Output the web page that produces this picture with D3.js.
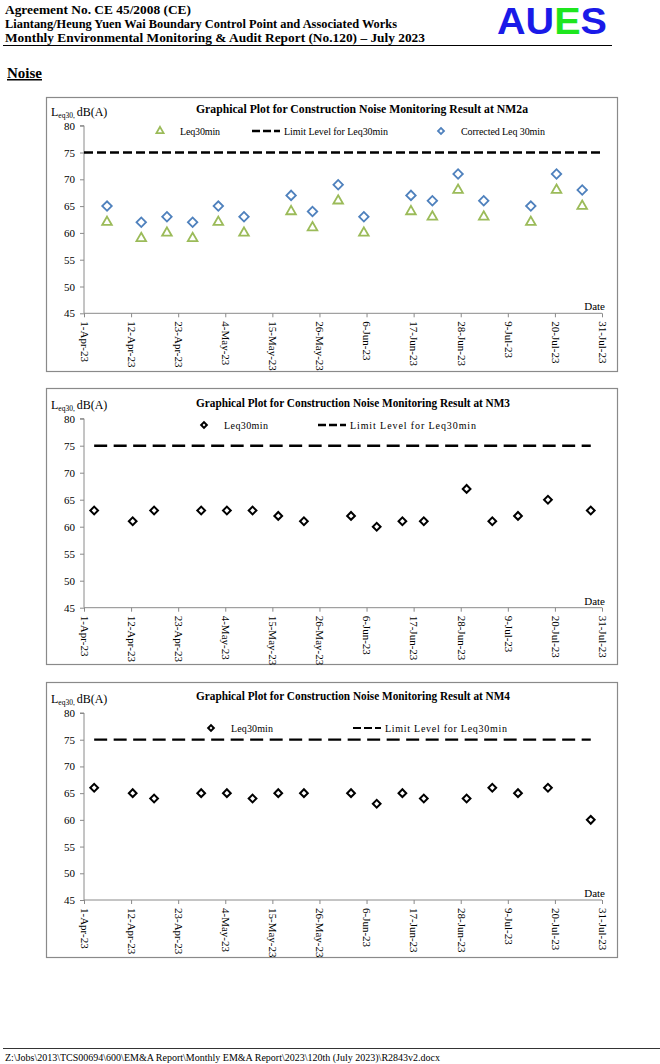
<!DOCTYPE html>
<html>
<head>
<meta charset="utf-8">
<script src="https://cdn.jsdelivr.net/npm/d3@7"></script>
<style>
  html, body { margin: 0; padding: 0; background: #fff; }
  svg { display: block; }
  text { font-family: "Liberation Serif", "Times New Roman", serif; }
</style>
</head>
<body>
<svg id="page" width="660" height="1064"></svg>
<script>
// ---------------- DATA ----------------
const nm2aDates = ["2023-04-06","2023-04-14","2023-04-20","2023-04-26","2023-05-02","2023-05-08","2023-05-19","2023-05-24","2023-05-30","2023-06-05","2023-06-16","2023-06-21","2023-06-27","2023-07-03","2023-07-14","2023-07-20","2023-07-26"];
const nm2aLeq30 = [62,59,60,59,62,60,64,61,66,60,64,63,68,63,62,68,65];
const nm2aCorrected = [65,62,63,62,65,63,67,64,69,63,67,66,71,66,65,71,68];

const nm34Dates = ["2023-04-03","2023-04-12","2023-04-17","2023-04-28","2023-05-04","2023-05-10","2023-05-16","2023-05-22","2023-06-02","2023-06-08","2023-06-14","2023-06-19","2023-06-29","2023-07-05","2023-07-11","2023-07-18","2023-07-28"];
const nm3Leq30 = [63,61,63,63,63,63,62,61,62,60,61,61,67,61,62,65,63];
const nm4Leq30 = [66,65,64,65,65,64,65,65,65,63,65,64,64,66,65,66,60];

const limitLevel = 75;
const yTicks = [45,50,55,60,65,70,75,80];
const xTickDates = ["2023-04-01","2023-04-12","2023-04-23","2023-05-04","2023-05-15","2023-05-26","2023-06-06","2023-06-17","2023-06-28","2023-07-09","2023-07-20","2023-07-31"];

// ---------------- HELPERS ----------------
const parse = d3.utcParse("%Y-%m-%dT%H:%M");
const pd = s => parse(s + "T09:00");
const pd0 = s => parse(s + "T00:00");
const fmt = d3.utcFormat("%-d-%b-%y");

const svg = d3.select("#page");

// ---------------- HEADER ----------------
const hdr = svg.append("g");
function hline(t, y, len) {
  hdr.append("text").attr("x", 5).attr("y", y).attr("font-size", 13).attr("font-weight", "bold")
    .attr("textLength", len).attr("lengthAdjust", "spacingAndGlyphs").text(t);
}
hline("Agreement No. CE 45/2008 (CE)", 14, 186);
hline("Liantang/Heung Yuen Wai Boundary Control Point and Associated Works", 28, 392);
hline("Monthly Environmental Monitoring & Audit Report (No.120) \u2013 July 2023", 42, 420);
hdr.append("line").attr("x1", 3).attr("x2", 612).attr("y1", 45.5).attr("y2", 45.5)
  .attr("stroke", "#000").attr("stroke-width", 1.2);
const logo = hdr.append("text").attr("x", 497).attr("y", 34).attr("font-size", 37)
  .attr("font-weight", "bold").attr("textLength", 110).attr("lengthAdjust", "spacingAndGlyphs")
  .style("font-family", "'Liberation Sans', Arial, sans-serif");
logo.append("tspan").attr("fill", "#1a1ae8").text("AU");
logo.append("tspan").attr("fill", "#1ee61e").text("E");
logo.append("tspan").attr("fill", "#1a1ae8").text("S");

hdr.append("text").attr("x", 7).attr("y", 78).attr("font-size", 15).attr("font-weight", "bold")
  .attr("text-decoration", "underline").text("Noise");

// ---------------- FOOTER ----------------
svg.append("line").attr("x1", 3).attr("x2", 660).attr("y1", 1048.5).attr("y2", 1048.5)
  .attr("stroke", "#000").attr("stroke-width", 0.8);
svg.append("text").attr("x", 5).attr("y", 1061).attr("font-size", 10)
  .text("Z:\\Jobs\\2013\\TCS00694\\600\\EM&A Report\\Monthly EM&A Report\\2023\\120th (July 2023)\\R2843v2.docx");

// ---------------- CHART ----------------
function diamondPath(size) { return d3.symbol().type(d3.symbolSquare).size(size)(); }

function drawChart(cfg) {
  const g = svg.append("g");
  g.append("rect").attr("x", cfg.box[0] + 0.5).attr("y", cfg.box[1] + 0.5)
    .attr("width", cfg.box[2] - cfg.box[0]).attr("height", cfg.box[3] - cfg.box[1])
    .attr("fill", "#fff").attr("stroke", "#8a8a8a").attr("stroke-width", 1.2);

  const x = d3.scaleUtc().domain([pd0(xTickDates[0]), pd0(xTickDates[xTickDates.length - 1])]).range([84, 602]);
  const y = d3.scaleLinear().domain([45, 80]).range([cfg.y0, cfg.y80]);

  const yAxis = d3.axisLeft(y).tickValues(yTicks).tickSize(4).tickPadding(5).tickFormat(d3.format("d"));
  const ya = g.append("g").attr("transform", "translate(84,0)").call(yAxis);
  ya.attr("font-family", null);
  ya.select(".domain").attr("stroke", "#8a8a8a").attr("d", `M-4,${cfg.y80}H0V${cfg.y0}`);
  ya.selectAll(".tick line").attr("stroke", "#8a8a8a");
  ya.selectAll(".tick text").attr("font-size", 11).attr("fill", "#000")
    .style("font-family", "'Liberation Serif', serif");

  const xAxis = d3.axisBottom(x).tickValues(xTickDates.map(pd0)).tickSize(4).tickFormat(fmt);
  const xa = g.append("g").attr("transform", `translate(0,${cfg.y0})`).call(xAxis);
  xa.attr("font-family", null);
  xa.select(".domain").attr("stroke", "#8a8a8a").attr("d", "M84,0H602");
  xa.selectAll(".tick line").attr("stroke", "#8a8a8a");
  xa.selectAll(".tick text").attr("font-size", 11).attr("fill", "#000")
    .style("font-family", "'Liberation Serif', serif")
    .attr("text-anchor", "start").attr("transform", "rotate(90)")
    .attr("x", 8).attr("y", 0).attr("dy", "0.33em");

  g.append("text").attr("x", 605).attr("y", cfg.y0 - 3).attr("font-size", 11)
    .attr("text-anchor", "end").text("Date");

  const yt = g.append("text").attr("x", 51).attr("y", cfg.y80 - 10).attr("font-size", 12);
  yt.append("tspan").text("L");
  yt.append("tspan").attr("font-size", 7.5).attr("dy", 2).text("eq30");
  yt.append("tspan").attr("font-size", 7.5).attr("dy", 0).text(", ");
  yt.append("tspan").attr("dy", -2).text("dB(A)");

  g.append("text").attr("x", 196).attr("y", cfg.titleY).attr("font-size", 13).attr("font-weight", "bold")
    .attr("textLength", cfg.titleLen).attr("lengthAdjust", "spacingAndGlyphs")
    .text(cfg.title);

  const line = d3.line().x(d => x(d[0])).y(d => y(d[1]));
  g.append("path").datum(cfg.limitDates.map(d => [d, limitLevel]))
    .attr("d", line).attr("fill", "none").attr("stroke", "#000")
    .attr("stroke-width", cfg.limitWidth).attr("stroke-dasharray", cfg.dash);

  cfg.series.forEach(s => {
    const pts = s.dates.map((d, i) => ({ d: pd(d), v: s.values[i] }));
    g.append("g").selectAll("path").data(pts).join("path")
      .attr("transform", p => `translate(${x(p.d)},${y(p.v)})` + (s.type === "diamond" ? " rotate(45)" : ""))
      .attr("d", s.type === "diamond" ? diamondPath(s.size) : d3.symbol().type(d3.symbolTriangle).size(s.size)())
      .attr("fill", "none").attr("stroke", s.color).attr("stroke-width", s.sw);
  });

  cfg.legend.forEach(l => {
    if (l.type === "line") {
      g.append("line").attr("x1", l.x).attr("x2", l.x + 28).attr("y1", cfg.legendY).attr("y2", cfg.legendY)
        .attr("stroke", "#000").attr("stroke-width", cfg.limitWidth).attr("stroke-dasharray", cfg.legendDash);
      g.append("text").attr("x", l.x + 32).attr("y", cfg.legendY + 3.5).attr("font-size", 10)
        .attr("textLength", l.len).attr("lengthAdjust", "spacing").text(l.label);
    } else {
      g.append("path").attr("transform", `translate(${l.x},${cfg.legendY})` + (l.type === "diamond" ? " rotate(45)" : ""))
        .attr("d", l.type === "diamond" ? diamondPath(l.size) : d3.symbol().type(d3.symbolTriangle).size(l.size)())
        .attr("fill", "none").attr("stroke", l.color).attr("stroke-width", l.sw);
      g.append("text").attr("x", l.x + 20).attr("y", cfg.legendY + 3.5).attr("font-size", 10)
        .attr("textLength", l.len).attr("lengthAdjust", "spacing").text(l.label);
    }
  });
}

const green = "#9bbb59", blue = "#4f81bd";

drawChart({
  box: [46, 97, 617, 371], y0: 313.3, y80: 125.7, titleY: 113, titleLen: 332,
  title: "Graphical Plot for Construction Noise Monitoring Result at NM2a",
  limitDates: [pd0(xTickDates[0]), pd0(xTickDates[xTickDates.length - 1])],
  limitWidth: 2.5, dash: "9,4", legendDash: "8,3", legendY: 131,
  series: [
    { dates: nm2aDates, values: nm2aLeq30, type: "triangle", color: green, size: 40, sw: 1.8 },
    { dates: nm2aDates, values: nm2aCorrected, type: "diamond", color: blue, size: 45, sw: 1.8 }
  ],
  legend: [
    { type: "triangle", x: 160, color: green, size: 22, sw: 1.8, label: "Leq30min", len: 40 },
    { type: "line", x: 252, label: "Limit Level for Leq30min", len: 104 },
    { type: "diamond", x: 441, color: blue, size: 18, sw: 1.8, label: "Corrected Leq 30min", len: 84 }
  ]
});

drawChart({
  box: [46, 388, 617, 664], y0: 607.7, y80: 418.7, titleY: 407, titleLen: 314,
  title: "Graphical Plot for Construction Noise Monitoring Result at NM3",
  limitDates: [pd(nm34Dates[0]), pd(nm34Dates[nm34Dates.length - 1])],
  limitWidth: 2.5, dash: "13,6.5", legendDash: "8,3", legendY: 425,
  series: [
    { dates: nm34Dates, values: nm3Leq30, type: "diamond", color: "#000", size: 30, sw: 2 }
  ],
  legend: [
    { type: "diamond", x: 204, color: "#000", size: 16, sw: 2, label: "Leq30min", len: 44 },
    { type: "line", x: 318, label: "Limit Level for Leq30min", len: 126 }
  ]
});

drawChart({
  box: [46, 682, 617, 957], y0: 900, y80: 713, titleY: 700, titleLen: 314,
  title: "Graphical Plot for Construction Noise Monitoring Result at NM4",
  limitDates: [pd(nm34Dates[0]), pd(nm34Dates[nm34Dates.length - 1])],
  limitWidth: 2.2, dash: "13,6.5", legendDash: "8,3", legendY: 728,
  series: [
    { dates: nm34Dates, values: nm4Leq30, type: "diamond", color: "#000", size: 30, sw: 2 }
  ],
  legend: [
    { type: "diamond", x: 211, color: "#000", size: 16, sw: 2, label: "Leq30min", len: 42 },
    { type: "line", x: 353, label: "Limit Level for Leq30min", len: 122 }
  ]
});
</script>
</body>
</html>
